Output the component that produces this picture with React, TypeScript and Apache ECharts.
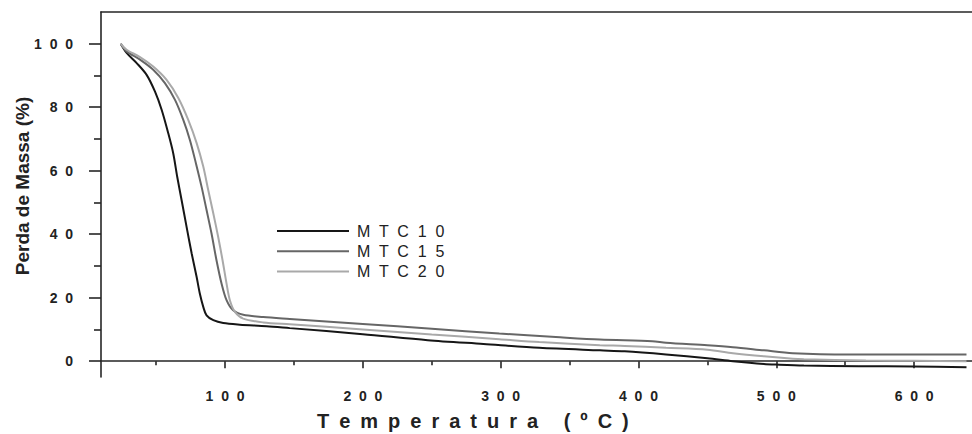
import React, { useEffect, useRef } from "react";
import * as echarts from "echarts";

// Thermogravimetric curves: [temperature (ºC), mass (%)]
const mtc10: [number, number][] = [
  [24.3, 100], [28.6, 97.1], [35.9, 93.9], [43.1, 90.2], [49.2, 84.9], [54, 79.2],
  [58.8, 71.8], [62.4, 65.5], [65.3, 58.1], [68.5, 50.7], [72.1, 42.3], [75.8, 33.9],
  [79.4, 26.5], [81.7, 21.3], [84.2, 17.1], [86.6, 14.4], [91.5, 12.9], [98.7, 12.0],
  [110.8, 11.5], [130.2, 11.0], [147, 10.4], [200, 8.5], [247, 6.6], [287.5, 5.4],
  [328, 4.2], [372, 3.4], [390, 3.1], [420, 2.1], [450, 0.9], [468.5, 0],
  [491, -0.9], [500, -1.1], [520, -1.4], [560, -1.6], [600, -1.7], [638, -1.9],
];
const mtc15: [number, number][] = [
  [24.3, 100], [28.6, 97.6], [38.3, 95.0], [47.9, 91.8], [56.4, 87.6], [63.7, 82.3],
  [69.7, 76.0], [74.5, 69.7], [78.9, 62.3], [83, 54.9], [86.6, 47.6], [90.2, 40.2],
  [93.8, 31.8], [97.5, 24.4], [101.1, 19.2], [105.9, 16.0], [113.2, 14.6], [127.7, 13.9],
  [147, 13.3], [200, 11.7], [250, 10.2], [299, 8.7], [340, 7.6], [372, 6.8],
  [410, 6.3], [420, 5.8], [450, 5.0], [468.5, 4.4], [491, 3.4], [512, 2.5],
  [553, 2.1], [600, 2.1], [638, 2.1],
];
const mtc20: [number, number][] = [
  [24.3, 100], [28.6, 98.1], [38.3, 95.8], [47.9, 92.8], [57.6, 88.6], [66.1, 82.9],
  [73.3, 76.0], [79.4, 68.7], [84.2, 61.3], [87.8, 53.9], [91.5, 46.5], [95, 39.2],
  [98.2, 31.8], [101.1, 24.4], [103.5, 19.2], [107.2, 15.5], [113.2, 13.4], [127.7, 12.2],
  [147, 11.6], [200, 10.0], [250, 8.4], [299, 6.9], [328, 6.0], [372, 5.0],
  [390, 4.8], [420, 4.2], [450, 3.6], [468.5, 2.5], [491, 1.5], [512, 0.75],
  [520, 0.6], [565, 0.2], [600, 0.1], [638, 0],
];

const seriesNames = ["MTC10", "MTC15", "MTC20"];
const seriesColors = ["#161616", "#666666", "#a9a9a9"];
const xLabelValues = [100, 200, 300, 400, 500, 600];
const xMinorValues = [50, 150, 250, 350, 450, 550];
const yLabelValues = [0, 20, 40, 60, 80, 100];
const yMinorValues = [10, 30, 50, 70, 90];
const xTitle = "Temperatura (ºC)";
const yTitle = "Perda de Massa (%)";

const FONT = '"Liberation Sans", Arial, Helvetica, sans-serif';
const spaced = (s: string, sep = " ") => s.split("").join(sep);

export default function App() {
  const ref = useRef<HTMLDivElement>(null);
  useEffect(() => {
    if (!ref.current) return;
    const chart = echarts.init(ref.current, undefined, { renderer: "svg" });
    const axisLine = { show: true, lineStyle: { color: "#262626", width: 1.6 } };
    const tickStyle = { color: "#262626", width: 1.6 };
    const xRange = { min: 10, max: 642 };
    const yRange = { min: -5, max: 110 };
    const labelStyle = { fontFamily: FONT, fontSize: 14, fontWeight: "bold", color: "#222" };

    const legendGraphics: any[] = [];
    seriesNames.forEach((name, i) => {
      const y = 231 + i * 20.3;
      legendGraphics.push({
        type: "line",
        shape: { x1: 277, y1: y, x2: 349, y2: y },
        style: { stroke: seriesColors[i], lineWidth: 2 },
      });
      legendGraphics.push({
        type: "text",
        x: 357,
        y,
        style: {
          text: spaced(name, "  "),
          fontFamily: FONT,
          fontSize: 16,
          fill: "#222",
          align: "left",
          verticalAlign: "middle",
        },
      });
    });

    chart.setOption({
      animation: false,
      backgroundColor: "#ffffff",
      grid: { left: 101, right: 0, top: 12, bottom: 57, containLabel: false, outerBoundsMode: "none" },
      xAxis: [
        {
          type: "value", position: "bottom", ...xRange,
          axisLine,
          splitLine: { show: false },
          axisTick: { show: true, length: 7, customValues: xLabelValues, lineStyle: tickStyle },
          axisLabel: {
            customValues: xLabelValues, margin: 12,
            formatter: (v: number) => spaced(String(v), "  "),
            ...labelStyle,
          },
        },
        {
          type: "value", position: "bottom", ...xRange,
          axisLine: { show: false },
          splitLine: { show: false },
          axisTick: { show: true, length: 4, customValues: xMinorValues, lineStyle: tickStyle },
          axisLabel: { show: false },
        },
        {
          type: "value", position: "top", ...xRange,
          axisLine,
          splitLine: { show: false },
          axisTick: { show: false },
          axisLabel: { show: false },
        },
      ],
      yAxis: [
        {
          type: "value", position: "left", ...yRange,
          axisLine,
          splitLine: { show: false },
          axisTick: { show: true, length: 12, customValues: yLabelValues, lineStyle: tickStyle },
          axisLabel: {
            customValues: yLabelValues, margin: 28,
            formatter: (v: number) => spaced(String(v), "  "),
            ...labelStyle,
          },
        },
        {
          type: "value", position: "left", ...yRange,
          axisLine: { show: false },
          splitLine: { show: false },
          axisTick: { show: true, length: 7, customValues: yMinorValues, lineStyle: tickStyle },
          axisLabel: { show: false },
        },
      ],
      graphic: [
        {
          type: "text", left: 317, top: 411,
          style: { text: spaced(xTitle, "\u2002"), fontFamily: FONT, fontSize: 20, fontWeight: "bold", fill: "#222" },
        },
        {
          type: "text", x: 22, y: 186, rotation: Math.PI / 2,
          style: { text: yTitle, fontFamily: FONT, fontSize: 19, fontWeight: "bold", fill: "#222", align: "center", verticalAlign: "middle" },
        },
        ...legendGraphics,
      ],
      series: [mtc10, mtc15, mtc20].map((d, i) => ({
        name: seriesNames[i],
        type: "line",
        data: d,
        xAxisIndex: 0,
        yAxisIndex: 0,
        symbol: "none",
        showSymbol: false,
        smooth: 0.3,
        lineStyle: { color: seriesColors[i], width: 2 },
        itemStyle: { color: seriesColors[i] },
      })),
    });
    return () => chart.dispose();
  }, []);
  return <div ref={ref} style={{ position: "fixed", left: 0, top: 0, width: 972, height: 434 }} />;
}
